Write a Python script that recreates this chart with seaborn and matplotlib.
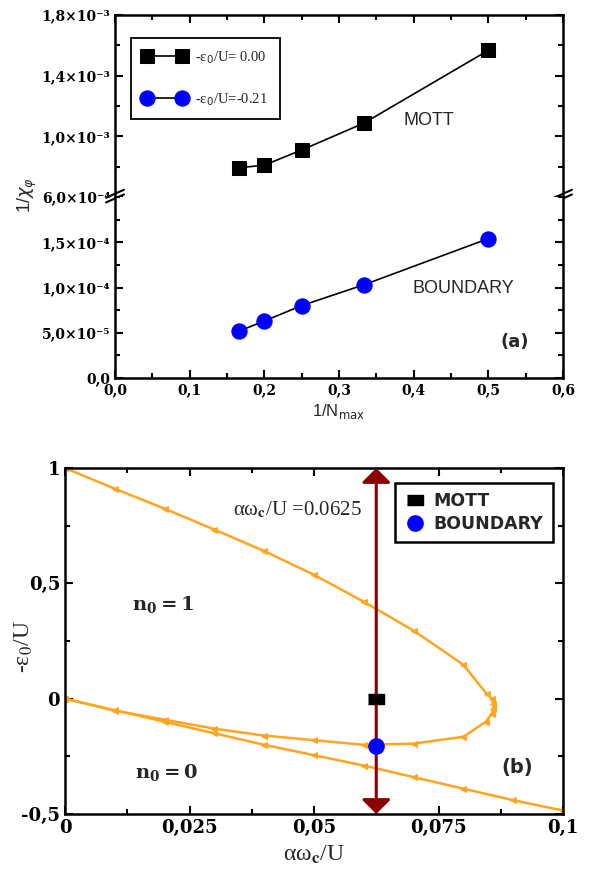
import matplotlib
matplotlib.use("Agg")
import matplotlib.pyplot as plt
import seaborn as sns
import pandas as pd

# ---- panel (a) data ----
inv_nmax = [1 / 6, 1 / 5, 1 / 4, 1 / 3, 1 / 2]
chi_mott = [7.93e-4, 8.1e-4, 9.1e-4, 1.087e-3, 1.567e-3]
chi_boundary = [5.2e-5, 6.3e-5, 8.0e-5, 1.03e-4, 1.54e-4]

xticks_a = [0.0, 0.1, 0.2, 0.3, 0.4, 0.5, 0.6]
xlabels_a = ["0,0", "0,1", "0,2", "0,3", "0,4", "0,5", "0,6"]
yticks_hi = [6e-4, 1.0e-3, 1.4e-3, 1.8e-3]
ylabels_hi = ["6,0×10⁻⁴", "1,0×10⁻³", "1,4×10⁻³", "1,8×10⁻³"]
yticks_lo = [0.0, 5e-5, 1e-4, 1.5e-4]
ylabels_lo = ["0,0", "5,0×10⁻⁵", "1,0×10⁻⁴", "1,5×10⁻⁴"]

# ---- panel (b) data ----
# upper branch: from (0,1) round the nose and back to (0,0)
x_loop = [0.0, 0.01, 0.02, 0.03, 0.04, 0.05, 0.06, 0.07, 0.08, 0.0847, 0.0857,
          0.086, 0.086, 0.0857, 0.0845, 0.08, 0.07, 0.06, 0.05, 0.04, 0.03,
          0.02, 0.01, 0.0]
y_loop = [1.0, 0.91, 0.824, 0.733, 0.64, 0.537, 0.42, 0.295, 0.147, 0.02, 0.0,
          -0.025, -0.045, -0.065, -0.10, -0.165, -0.195, -0.20, -0.18, -0.16,
          -0.13, -0.091, -0.052, 0.0]
# lower branch (n0 = 0 boundary)
x_low = [0.0, 0.01, 0.02, 0.03, 0.04, 0.05, 0.06, 0.07, 0.08, 0.09, 0.1]
y_low = [0.0, -0.05, -0.10, -0.15, -0.20, -0.245, -0.29, -0.34, -0.39, -0.44, -0.485]

alpha_wc = 0.0625
eps_mott = 0.0
eps_boundary = -0.205

xticks_b = [0.0, 0.025, 0.05, 0.075, 0.1]
xlabels_b = ["0", "0,025", "0,05", "0,075", "0,1"]
yticks_b = [-0.5, 0.0, 0.5, 1.0]
ylabels_b = ["-0,5", "0", "0,5", "1"]

ORANGE = "#FFA51F"
DARKRED = "#8B0000"

sns.set_theme(style="ticks")
plt.rcParams["font.family"] = ["DejaVu Serif"]
plt.rcParams["axes.linewidth"] = 1.8
plt.rcParams["axes.edgecolor"] = "black"

fig = plt.figure(figsize=(5.89, 8.73), dpi=100)
W, H = 589, 873


def px_axes(l, t, r, b):
    return fig.add_axes([l / W, 1 - b / H, (r - l) / W, (b - t) / H])


ax_hi = px_axes(115, 15, 563, 197)
ax_lo = px_axes(115, 197, 563, 378)
ax_b = px_axes(65, 468, 563, 814)


def style_ticks(ax, size):
    ax.tick_params(which="both", direction="in", top=True, right=True,
                   width=1.5, colors="black", labelsize=size)
    ax.tick_params(which="major", length=6)
    ax.tick_params(which="minor", length=3.5)
    for lab in ax.get_xticklabels() + ax.get_yticklabels():
        lab.set_fontweight("bold")
        lab.set_family("DejaVu Serif")


# ---- panel (a) ----
sns.lineplot(x=inv_nmax, y=chi_mott, ax=ax_hi, color="black", marker="s",
             markersize=10, markeredgecolor="black", linewidth=1.2,
             label="-ε$_0$/U= 0.00", legend=False, estimator=None)
sns.lineplot(x=inv_nmax, y=chi_boundary, ax=ax_lo, color="black", marker="o",
             markersize=11, markerfacecolor="#0000FF", markeredgecolor="#0000FF",
             linewidth=1.2, label="-ε$_0$/U=-0.21", legend=False, estimator=None)

for ax in (ax_hi, ax_lo):
    ax.set_xlim(0, 0.6)
    ax.set_xticks(xticks_a, xlabels_a)
    ax.set_xticks([0.05, 0.15, 0.25, 0.35, 0.45, 0.55], minor=True)
    ax.set_xlabel("")
    ax.set_ylabel("")

ax_hi.set_ylim(6e-4, 1.8e-3)
ax_hi.set_yticks(yticks_hi, ylabels_hi)
ax_hi.set_yticks([8e-4, 1.2e-3, 1.6e-3], minor=True)
ax_lo.set_ylim(0, 2e-4)
ax_lo.set_yticks(yticks_lo, ylabels_lo)
ax_lo.set_yticks([2.5e-5, 7.5e-5, 1.25e-4, 1.75e-4, 2e-4], minor=True)

style_ticks(ax_hi, 10)
style_ticks(ax_lo, 10)
ax_hi.spines["bottom"].set_visible(False)
ax_hi.tick_params(which="both", bottom=False, labelbottom=False)
ax_lo.spines["top"].set_visible(False)
ax_lo.tick_params(which="both", top=False)

# break marks
for xa in (0.0, 1.0):
    for dy in (0.018, -0.008):
        ax_hi.plot([xa - 0.02, xa + 0.02], [dy - 0.022, dy + 0.022],
                   transform=ax_hi.transAxes, color="black", lw=1.5,
                   clip_on=False)

h1, l1 = ax_hi.get_legend_handles_labels()
h2, l2 = ax_lo.get_legend_handles_labels()
leg = ax_hi.legend(h1 + h2, l1 + l2, loc="upper left",
                   bbox_to_anchor=(0.02, 0.915), numpoints=2, handlelength=3.0,
                   handletextpad=0.6, labelspacing=1.7, borderpad=0.8,
                   fancybox=False, edgecolor="black", framealpha=1,
                   prop=dict(family="Liberation Serif", size=10.5))
leg.get_frame().set_linewidth(1.3)

ax_hi.text(0.42, 1.105e-3, "MOTT", ha="center", va="center",
           family="Liberation Sans", fontsize=13)
ax_lo.text(0.466, 9.9e-5, "BOUNDARY", ha="center", va="center",
           family="Liberation Sans", fontsize=13)
ax_lo.text(0.536, 4.0e-5, "(a)", ha="center", va="center",
           family="DejaVu Sans", fontsize=13, weight="bold")

ax_lo.set_xlabel("1/N$_{\\mathrm{max}}$", family="Liberation Sans",
                 fontsize=12, labelpad=4)
fig.text(27 / W, 1 - 195 / H, "1/$\\chi_\\varphi$", rotation=90,
         ha="center", va="center", family="Liberation Sans", fontsize=13)

# ---- panel (b) ----
sns.lineplot(x=x_loop, y=y_loop, sort=False, estimator=None, ax=ax_b,
             color=ORANGE, marker="<", markersize=5, markeredgecolor=ORANGE,
             linewidth=1.8, legend=False)
sns.lineplot(x=x_low, y=y_low, sort=False, estimator=None, ax=ax_b,
             color=ORANGE, marker="<", markersize=5, markeredgecolor=ORANGE,
             linewidth=1.8, legend=False)

ax_b.set_xlim(0, 0.1)
ax_b.set_ylim(-0.5, 1.0)
ax_b.annotate("", xy=(alpha_wc, 1.0), xytext=(alpha_wc, -0.5),
              arrowprops=dict(arrowstyle="<|-|>,head_length=0.55,head_width=0.55",
                              color=DARKRED, lw=2.2, shrinkA=0, shrinkB=0,
                              mutation_scale=16),
              annotation_clip=False, zorder=3)

rect = [(-1.5, -1), (1.5, -1), (1.5, 1), (-1.5, 1)]
ax_b.plot([alpha_wc], [eps_mott], linestyle="none", marker=rect,
          markersize=11, color="black", label="MOTT", zorder=4)
ax_b.plot([alpha_wc], [eps_boundary], linestyle="none", marker="o",
          markersize=11, color="#0000FF", label="BOUNDARY", zorder=4)

ax_b.set_xticks(xticks_b, xlabels_b)
ax_b.set_xticks([0.0125, 0.0375, 0.0625, 0.0875], minor=True)
ax_b.set_yticks(yticks_b, ylabels_b)
ax_b.set_yticks([-0.25, 0.25, 0.75], minor=True)
ax_b.set_xlabel("")
ax_b.set_ylabel("")
style_ticks(ax_b, 13)

legb = ax_b.legend(loc="upper right", bbox_to_anchor=(0.98, 0.957),
                   handlelength=1.2, handletextpad=0.5, labelspacing=0.25,
                   borderpad=0.55, borderaxespad=0, fancybox=False,
                   edgecolor="black", framealpha=1,
                   prop=dict(family="DejaVu Sans", size=12.5, weight="bold"))
legb.get_frame().set_linewidth(1.8)

ax_b.text(0.0466, 0.82, "αω$_{\\mathbf{c}}$/U =0.0625", ha="center",
          va="center", family="Liberation Serif", fontsize=15,
          math_fontfamily="stix")
ax_b.text(0.0197, 0.41, "$\\mathbf{n_0 = 1}$", ha="center", va="center",
          fontsize=14, math_fontfamily="dejavuserif")
ax_b.text(0.0203, -0.32, "$\\mathbf{n_0 = 0}$", ha="center", va="center",
          fontsize=14, math_fontfamily="dejavuserif")
ax_b.text(0.0908, -0.30, "(b)", ha="center", va="center",
          family="DejaVu Sans", fontsize=14, weight="bold")

ax_b.set_xlabel("αω$_{\\mathbf{c}}$/U", family="Liberation Serif",
                fontsize=17, labelpad=5, math_fontfamily="stix")
fig.text(24 / W, 1 - 647 / H, "-ε$_0$/U", rotation=90,
         ha="center", va="center", family="Liberation Serif", fontsize=17,
         math_fontfamily="stix")

fig.savefig("out.png", dpi=100, facecolor="white")
